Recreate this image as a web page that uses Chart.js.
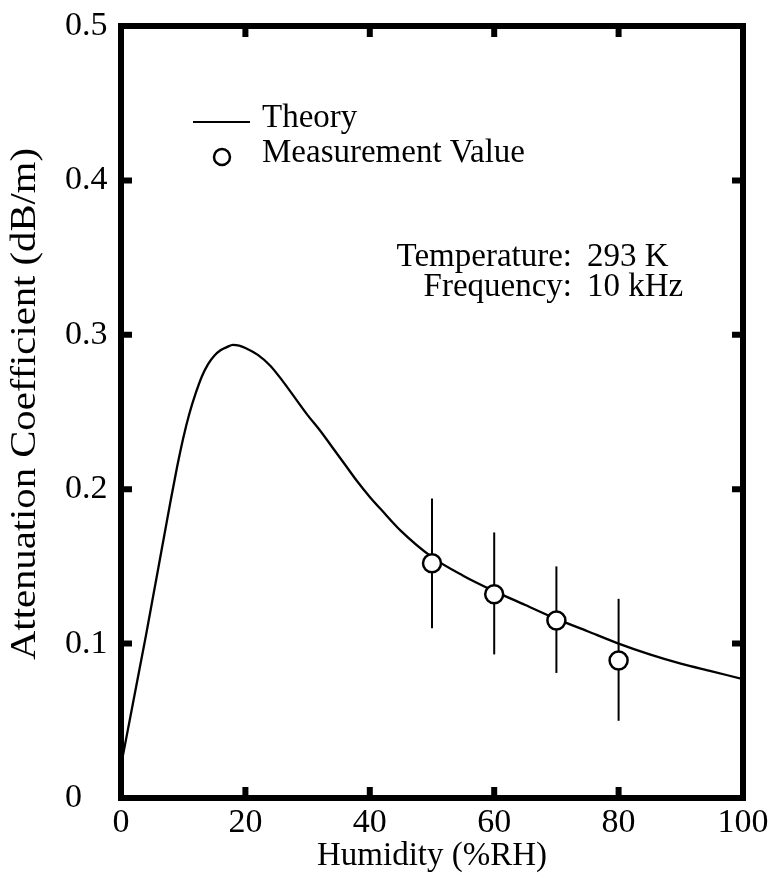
<!DOCTYPE html>
<html lang="en">
<head>
  <meta charset="UTF-8" />
  <title>Attenuation Coefficient vs Humidity</title>
  <script src="https://cdn.jsdelivr.net/npm/chart.js"></script>
  <style>
    body {
      margin: 0;
      background: #fff;
    }
    #wrap {
      width: 774px;
      height: 879px;
    }
  </style>
</head>
<body>
  <div id="wrap"><canvas id="chart" width="774" height="879"></canvas></div>

  <script>
    // theory curve (humidity %RH -> dB/m)
    const humidity = [0, 1, 2, 3, 4, 5, 6, 7, 8, 9, 10, 11, 12, 13, 14, 15, 16, 17, 18, 19, 20,
      22, 24, 26, 28, 30, 32, 34, 36, 38, 40, 42, 45, 50, 55, 60, 65, 70, 75, 80, 85, 90, 95, 100];
    const theory = [0.021, 0.042, 0.063, 0.084, 0.105, 0.127, 0.149, 0.171, 0.193, 0.214, 0.233,
      0.249, 0.262, 0.273, 0.281, 0.2865, 0.290, 0.292, 0.2935, 0.293, 0.2915,
      0.287, 0.280, 0.270, 0.259, 0.248, 0.238, 0.227, 0.216, 0.205, 0.195, 0.186, 0.173,
      0.156, 0.144, 0.134, 0.125, 0.116, 0.108, 0.100, 0.093, 0.087, 0.082, 0.077];

    // measurements with error bars
    const measX = [50, 60, 70, 80];
    const measY = [0.152, 0.132, 0.115, 0.089];
    const errLow = [0.110, 0.093, 0.081, 0.050];
    const errHigh = [0.194, 0.172, 0.150, 0.129];

    const xTicks = [0, 20, 40, 60, 80, 100];
    const yTicks = [0, 0.1, 0.2, 0.3, 0.4, 0.5];

    const FONT = "'Liberation Serif', 'Times New Roman', serif";
    Chart.defaults.font.family = FONT;
    Chart.defaults.font.size = 34;
    Chart.defaults.color = '#000';

    const extras = {
      id: 'extras',
      beforeDatasetsDraw(chart) {
        const { ctx, scales: { x, y } } = chart;
        ctx.save();
        ctx.strokeStyle = '#000';
        ctx.lineWidth = 2;
        measX.forEach((h, i) => {
          const px = x.getPixelForValue(h);
          ctx.beginPath();
          ctx.moveTo(px, y.getPixelForValue(errLow[i]));
          ctx.lineTo(px, y.getPixelForValue(errHigh[i]));
          ctx.stroke();
        });
        ctx.restore();
      },
      afterDraw(chart) {
        const { ctx, chartArea: a, scales: { x, y } } = chart;
        ctx.save();
        ctx.strokeStyle = '#000';
        ctx.fillStyle = '#000';

        // thick frame + inward ticks on all four sides
        ctx.lineWidth = 6;
        ctx.strokeRect(a.left, a.top, a.right - a.left, a.bottom - a.top);
        xTicks.slice(1, -1).forEach(v => {
          const px = x.getPixelForValue(v);
          ctx.beginPath();
          ctx.moveTo(px, a.bottom); ctx.lineTo(px, a.bottom - 11);
          ctx.moveTo(px, a.top); ctx.lineTo(px, a.top + 11);
          ctx.stroke();
        });
        yTicks.slice(1, -1).forEach(v => {
          const py = y.getPixelForValue(v);
          ctx.beginPath();
          ctx.moveTo(a.left, py); ctx.lineTo(a.left + 11, py);
          ctx.moveTo(a.right, py); ctx.lineTo(a.right - 11, py);
          ctx.stroke();
        });

        // legend
        ctx.lineWidth = 2.2;
        ctx.beginPath();
        ctx.moveTo(193, 122); ctx.lineTo(250, 122);
        ctx.stroke();
        ctx.lineWidth = 2.5;
        ctx.beginPath();
        ctx.arc(222, 157, 8, 0, Math.PI * 2);
        ctx.stroke();
        ctx.font = '33px ' + FONT;
        ctx.textBaseline = 'alphabetic';
        ctx.textAlign = 'left';
        ctx.fillText('Theory', 262, 127);
        ctx.fillText('Measurement Value', 262, 162);

        // conditions (colons lined up)
        ctx.textAlign = 'right';
        ctx.fillText('Temperature:', 572, 266);
        ctx.fillText('Frequency:', 572, 296);
        ctx.textAlign = 'left';
        ctx.fillText('293 K', 587, 266);
        ctx.fillText('10 kHz', 587, 296);

        // y axis title
        const title = 'Attenuation Coefficient (dB/m)';
        ctx.font = '35px ' + FONT;
        const sx = 512 / ctx.measureText(title).width;
        ctx.translate(26, 404);
        ctx.rotate(-Math.PI / 2);
        ctx.scale(sx, 1);
        ctx.textAlign = 'center';
        ctx.textBaseline = 'middle';
        ctx.fillText(title, 0, 0);
        ctx.restore();
      }
    };

    new Chart(document.getElementById('chart').getContext('2d'), {
      type: 'scatter',
      data: {
        datasets: [
          {
            label: 'Measurement Value',
            data: measX.map((h, i) => ({ x: h, y: measY[i] })),
            pointRadius: 9,
            pointBorderWidth: 2.5,
            pointBackgroundColor: '#fff',
            pointBorderColor: '#000',
            order: 1
          },
          {
            label: 'Theory',
            data: humidity.map((h, i) => ({ x: h, y: theory[i] })),
            showLine: true,
            pointRadius: 0,
            borderColor: '#000',
            borderWidth: 2.3,
            cubicInterpolationMode: 'monotone',
            order: 2
          }
        ]
      },
      options: {
        responsive: false,
        animation: false,
        events: [],
        layout: { padding: { left: 65, right: 31, top: 26, bottom: 0 } },
        plugins: { legend: { display: false }, tooltip: { enabled: false } },
        scales: {
          x: {
            type: 'linear',
            min: 0,
            max: 100,
            afterBuildTicks: s => { s.ticks = xTicks.map(v => ({ value: v })); },
            ticks: { padding: 5, color: '#000' },
            grid: { display: false, drawTicks: false },
            border: { display: false },
            title: { display: true, text: 'Humidity (%RH)', font: { size: 33 }, padding: { top: 0, bottom: 3 } },
            afterFit: s => { s.height = 81; }
          },
          y: {
            type: 'linear',
            min: 0,
            max: 0.5,
            afterBuildTicks: s => { s.ticks = yTicks.map(v => ({ value: v })); },
            ticks: {
              crossAlign: 'far',
              padding: 0,
              color: '#000',
              callback: v => (v === 0 ? '0' : v.toFixed(1))
            },
            grid: { display: false, drawTicks: false },
            border: { display: false },
            afterFit: s => { s.width = 56; }
          }
        }
      },
      plugins: [extras]
    });
  </script>
</body>
</html>
